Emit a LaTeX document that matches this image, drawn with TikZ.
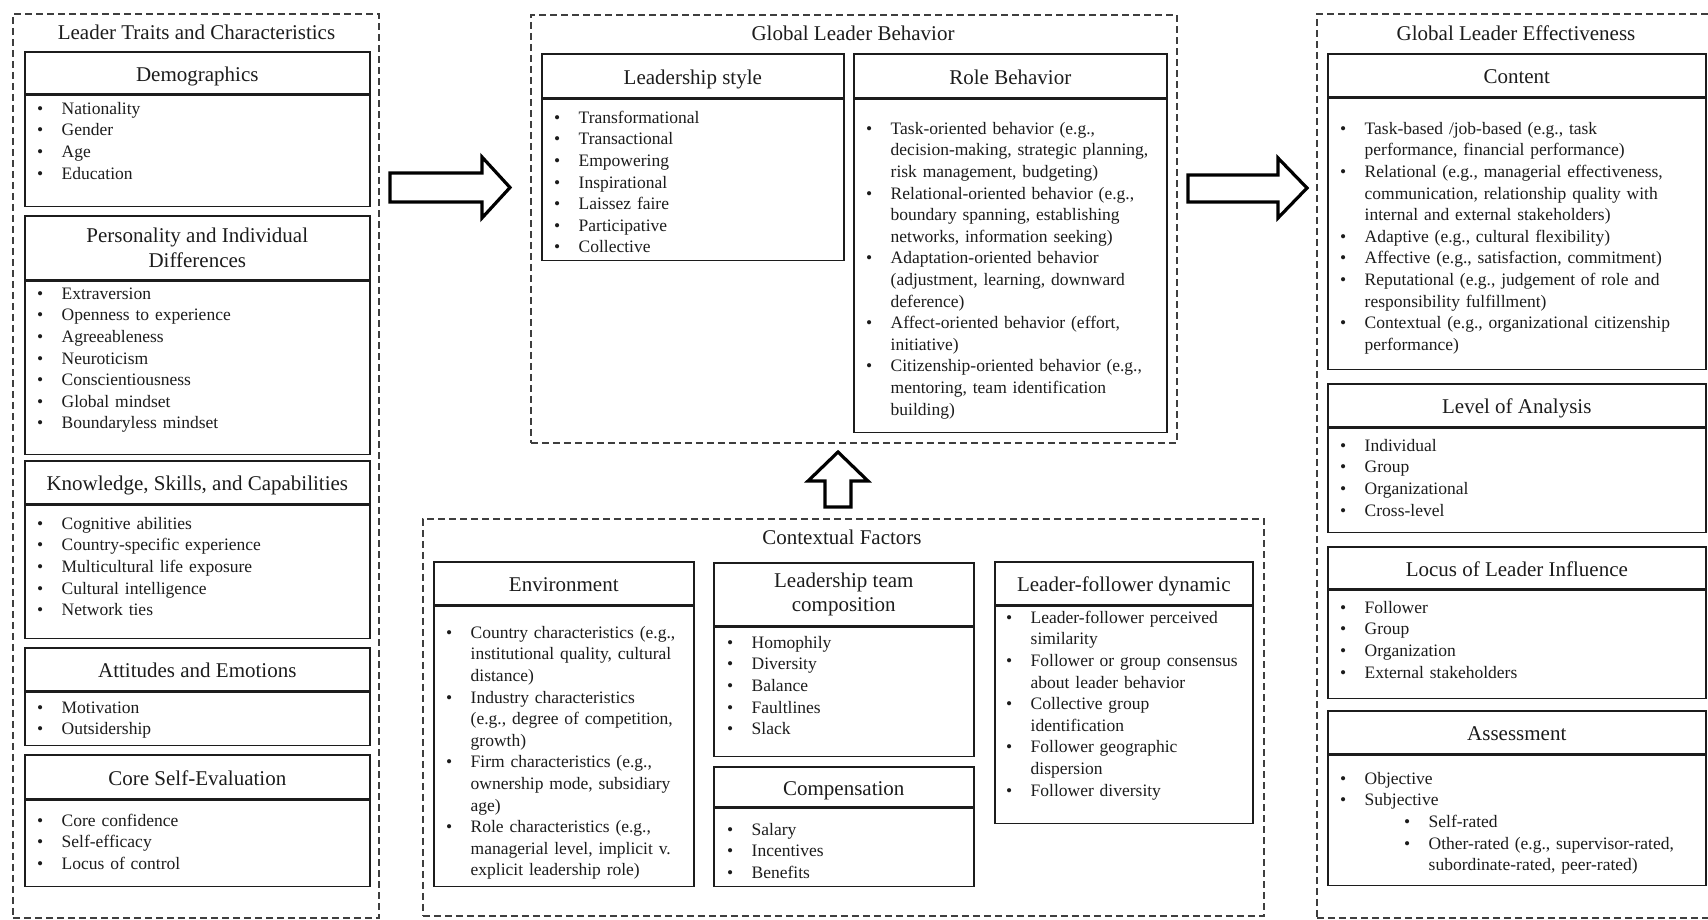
\documentclass[tikz,border=0pt]{standalone}
\usepackage{fontspec}
\setmainfont{Liberation Serif}
\usetikzlibrary{positioning}
\definecolor{ink}{HTML}{1C1C1C}
\def\headfont{\fontsize{21}{24.5}\selectfont}
\def\itemfont{\fontsize{17.5}{21.6}\selectfont}
\newcommand\itm[1]{\par\hangindent=24.5pt\hangafter=1\noindent\strut\makebox[24.5pt][l]{\textbullet}#1\par}
\newcommand\subitm[1]{\par\hangindent=88.5pt\hangafter=1\noindent\strut\hspace*{64pt}\makebox[24.5pt][l]{\textbullet}#1\par}

\begin{document}
\begin{tikzpicture}[x=1pt, y=-1pt,
          grp/.style = {draw=ink!85, dash pattern=on 7pt off 4pt, line width=1.5pt,
                        anchor=north west, inner sep=0pt},
          ttl/.style = {font=\headfont, text=ink, inner sep=0pt},
          hdtwo/.style = {draw=ink, line width=1.6pt, anchor=north west, inner sep=0pt,
                       align=center, font=\headfont, text=ink},
          hd/.style = {draw=ink, line width=1.6pt, anchor=north west, inner sep=0pt,
                       font=\headfont, text=ink, text height=17pt, text depth=0pt},
          bd/.style = {draw=ink, line width=1.6pt, anchor=north west, inner sep=0pt},
          lst/.style = {anchor=north west, inner sep=0pt, text width=400pt,
                        font=\itemfont, text=ink},
          blockarrow/.style = {draw=black, line width=3.2pt, fill=white, line join=miter}
          ]
\useasboundingbox (0,0) rectangle (1708,919);

% leader traits
\node[grp, minimum width=366, minimum height=904] (traits) at (12,13) {};
\node[ttl] (traitsT) at (196.5,32) {Leader Traits and Characteristics};

\node[hd, minimum width=345, minimum height=42] (demoH) at (24,51) {Demographics};
\node[bd, minimum width=345, minimum height=111, below=0pt of demoH] (demoB) {};
\node[lst] (demoL) at (37,92.5) {\itm{Nationality}\itm{Gender}\itm{Age}\itm{Education}};

\node[hdtwo, minimum width=345, minimum height=64] (persH) at (24,215) {Personality and Individual\\Differences};
\node[bd, minimum width=345, minimum height=173, below=0pt of persH] (persB) {};
\node[lst] (persL) at (37,277.5) {\itm{Extraversion}\itm{Openness to experience}\itm{Agreeableness}
  \itm{Neuroticism}\itm{Conscientiousness}\itm{Global mindset}\itm{Boundaryless mindset}};

\node[hd, minimum width=345, minimum height=43] (kscH) at (24,460) {Knowledge, Skills, and Capabilities};
\node[bd, minimum width=345, minimum height=133, below=0pt of kscH] (kscB) {};
\node[lst] (kscL) at (37,507.5) {\itm{Cognitive abilities}\itm{Country-specific experience}
  \itm{Multicultural life exposure}\itm{Cultural intelligence}\itm{Network ties}};

\node[hd, minimum width=345, minimum height=43] (attH) at (24,647) {Attitudes and Emotions};
\node[bd, minimum width=345, minimum height=53, below=0pt of attH] (attB) {};
\node[lst] (attL) at (37,691.5) {\itm{Motivation}\itm{Outsidership}};

\node[hd, minimum width=345, minimum height=44] (cseH) at (24,754) {Core Self-Evaluation};
\node[bd, minimum width=345, minimum height=86, below=0pt of cseH] (cseB) {};
\node[lst] (cseL) at (37,804.5) {\itm{Core confidence}\itm{Self-efficacy}\itm{Locus of control}};

% leader behavior
\node[grp, minimum width=646, minimum height=428] (behav) at (530,14) {};
\node[ttl] (behavT) at (853,33) {Global Leader Behavior};

\node[hd, minimum width=302, minimum height=44] (styleH) at (541,53) {Leadership style};
\node[bd, minimum width=302, minimum height=161, below=0pt of styleH] (styleB) {};
\node[lst] (styleL) at (554,101.5) {\itm{Transformational}\itm{Transactional}\itm{Empowering}
  \itm{Inspirational}\itm{Laissez faire}\itm{Participative}\itm{Collective}};

\node[hd, minimum width=313, minimum height=44] (roleH) at (853,53) {Role Behavior};
\node[bd, minimum width=313, minimum height=333, below=0pt of roleH] (roleB) {};
\node[lst] (roleL) at (866,112.5) {\itm{Task-oriented behavior (e.g.,\newline decision-making, strategic planning,\newline risk management, budgeting)}
  \itm{Relational-oriented behavior (e.g.,\newline boundary spanning, establishing\newline networks, information seeking)}
  \itm{Adaptation-oriented behavior\newline (adjustment, learning, downward\newline deference)}
  \itm{Affect-oriented behavior (effort,\newline initiative)}
  \itm{Citizenship-oriented behavior (e.g.,\newline mentoring, team identification\newline building)}};

% contextual factors
\node[grp, minimum width=841, minimum height=397] (context) at (422,518) {};
\node[ttl] (contextT) at (842,537) {Contextual Factors};

\node[hd, minimum width=260, minimum height=43] (envH) at (433,561) {Environment};
\node[bd, minimum width=260, minimum height=280, below=0pt of envH] (envB) {};
\node[lst] (envL) at (446,616.5) {\itm{Country characteristics (e.g.,\newline institutional quality, cultural\newline distance)}
  \itm{Industry characteristics\newline (e.g., degree of competition,\newline growth)}
  \itm{Firm characteristics (e.g.,\newline ownership mode, subsidiary\newline age)}
  \itm{Role characteristics (e.g.,\newline managerial level, implicit v.\newline explicit leadership role)}};

\node[hdtwo, minimum width=260, minimum height=63] (teamH) at (713,562) {Leadership team\\composition};
\node[bd, minimum width=260, minimum height=129, below=0pt of teamH] (teamB) {};
\node[lst] (teamL) at (727,626.5) {\itm{Homophily}\itm{Diversity}\itm{Balance}\itm{Faultlines}\itm{Slack}};

\node[hd, minimum width=260, minimum height=40] (compH) at (713,766) {Compensation};
\node[bd, minimum width=260, minimum height=78, below=0pt of compH] (compB) {};
\node[lst] (compL) at (727,813.5) {\itm{Salary}\itm{Incentives}\itm{Benefits}};

\node[hd, minimum width=258, minimum height=43] (dynH) at (994,561) {Leader-follower dynamic};
\node[bd, minimum width=258, minimum height=217, below=0pt of dynH] (dynB) {};
\node[lst] (dynL) at (1006,601.5) {\itm{Leader-follower perceived\newline similarity}
  \itm{Follower or group consensus\newline about leader behavior}
  \itm{Collective group\newline identification}
  \itm{Follower geographic\newline dispersion}
  \itm{Follower diversity}};

% leader effectiveness
\node[grp, minimum width=420, minimum height=904] (effect) at (1316,13) {};
\node[ttl] (effectT) at (1516,33) {Global Leader Effectiveness};

\node[hd, minimum width=378, minimum height=43] (contH) at (1327,53) {Content};
\node[bd, minimum width=378, minimum height=271, below=0pt of contH] (contB) {};
\node[lst] (contL) at (1340,112.5) {\itm{Task-based /job-based (e.g., task\newline performance, financial performance)}
  \itm{Relational (e.g., managerial effectiveness,\newline communication, relationship quality with\newline internal and external stakeholders)}
  \itm{Adaptive (e.g., cultural flexibility)}
  \itm{Affective (e.g., satisfaction, commitment)}
  \itm{Reputational (e.g., judgement of role and\newline responsibility fulfillment)}
  \itm{Contextual (e.g., organizational citizenship\newline performance)}};

\node[hd, minimum width=378, minimum height=43] (levelH) at (1327,383) {Level of Analysis};
\node[bd, minimum width=378, minimum height=104, below=0pt of levelH] (levelB) {};
\node[lst] (levelL) at (1340,429.5) {\itm{Individual}\itm{Group}\itm{Organizational}\itm{Cross-level}};

\node[hd, minimum width=378, minimum height=42] (locusH) at (1327,546) {Locus of Leader Influence};
\node[bd, minimum width=378, minimum height=108, below=0pt of locusH] (locusB) {};
\node[lst] (locusL) at (1340,591.5) {\itm{Follower}\itm{Group}\itm{Organization}\itm{External stakeholders}};

\node[hd, minimum width=378, minimum height=43] (assessH) at (1327,710) {Assessment};
\node[bd, minimum width=378, minimum height=130, below=0pt of assessH] (assessB) {};
\node[lst] (assessL) at (1340,762.5) {\itm{Objective}\itm{Subjective}\subitm{Self-rated}
  \subitm{Other-rated (e.g., supervisor-rated,\newline subordinate-rated, peer-rated)}};

% block arrows
\draw[blockarrow] (390,173) -- (482,173) -- (482,157) -- (510,187.5) -- (482,218) -- (482,202) -- (390,202) -- cycle;
\draw[blockarrow] (1188,175) -- (1278,175) -- (1278,158) -- (1307,188) -- (1278,218) -- (1278,202) -- (1188,202) -- cycle;
\draw[blockarrow] (825,507) -- (825,481) -- (808,481) -- (838,452) -- (868,481) -- (851,481) -- (851,507) -- cycle;
\end{tikzpicture}
\end{document}
